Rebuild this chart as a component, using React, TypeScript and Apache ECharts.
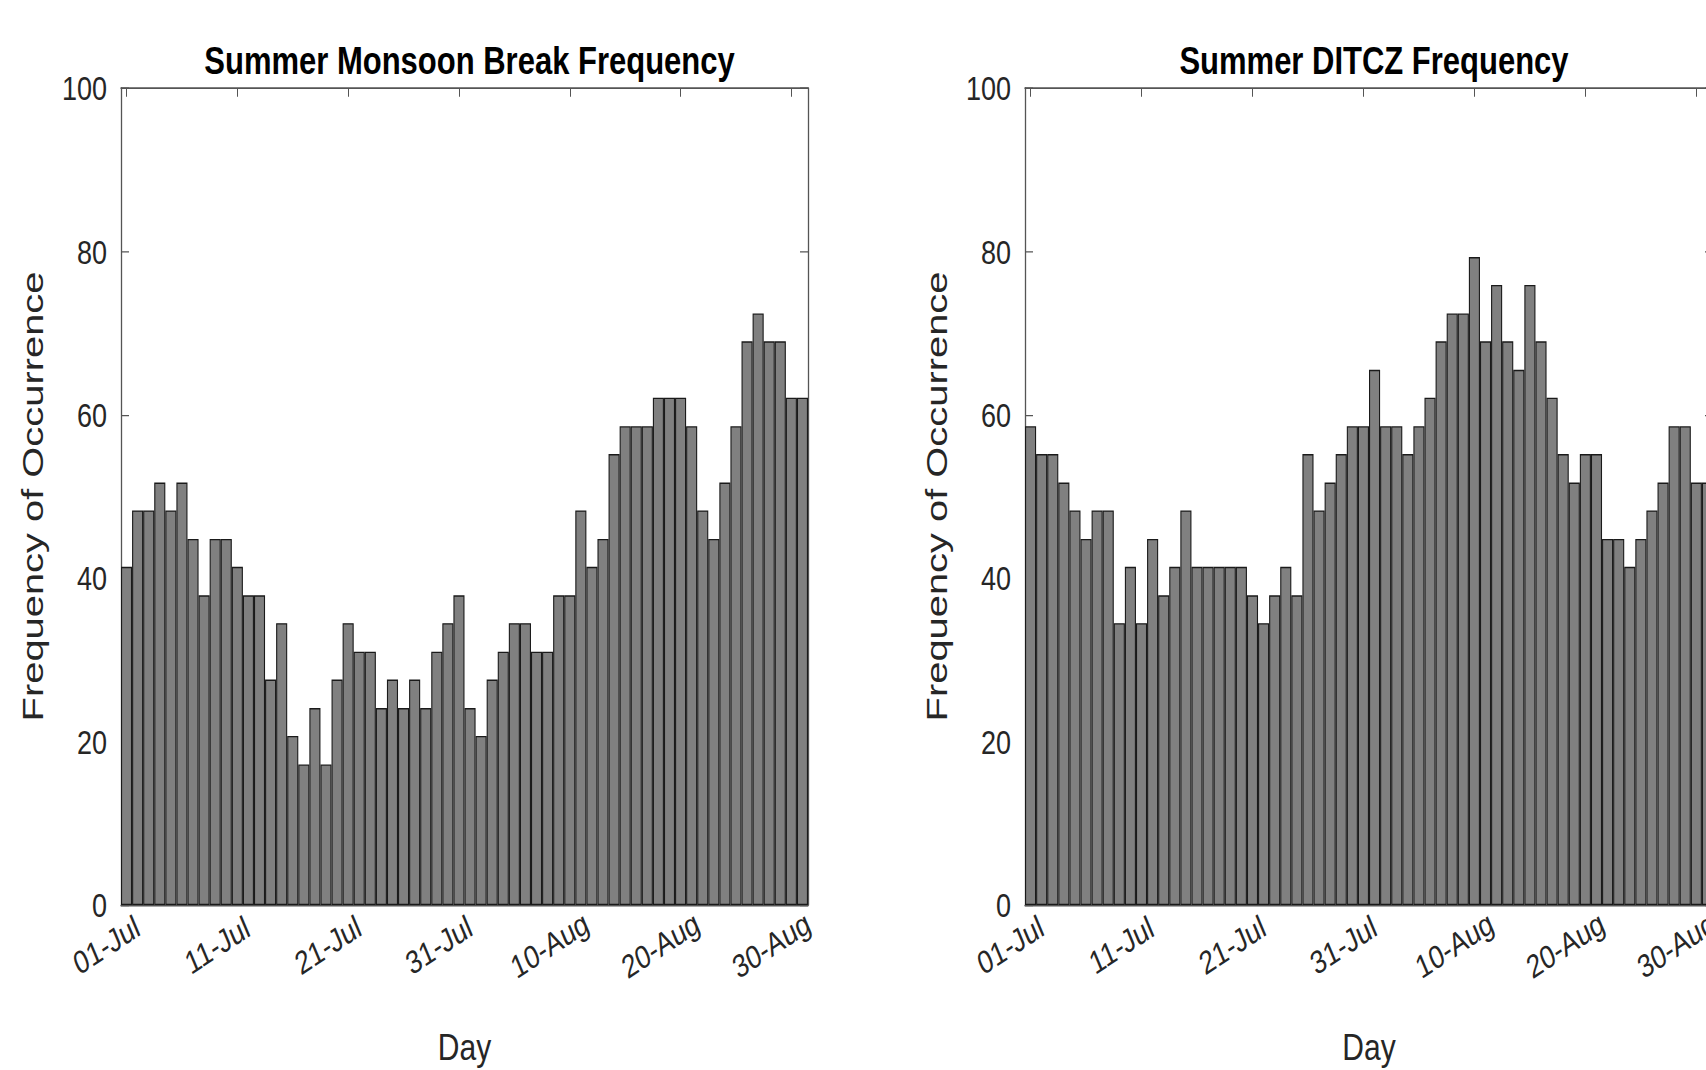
import React, { useEffect, useRef } from "react";
import * as echarts from "echarts";

// Categories: daily labels 01-Jul .. 31-Aug
const MONTHS: [string, number][] = [
  ["Jul", 31],
  ["Aug", 31],
];
const days: string[] = [];
for (const [m, n] of MONTHS) {
  for (let d = 1; d <= n; d++) days.push(String(d).padStart(2, "0") + "-" + m);
}

// Frequency of occurrence (%) per day
const breakFreq = [
  41.4, 48.3, 48.3, 51.7, 48.3, 51.7, 44.8, 37.9, 44.8, 44.8,
  41.4, 37.9, 37.9, 27.6, 34.5, 20.7, 17.2, 24.1, 17.2, 27.6,
  34.5, 31.0, 31.0, 24.1, 27.6, 24.1, 27.6, 24.1, 31.0, 34.5,
  37.9, 24.1, 20.7, 27.6, 31.0, 34.5, 34.5, 31.0, 31.0, 37.9,
  37.9, 48.3, 41.4, 44.8, 55.2, 58.6, 58.6, 58.6, 62.1, 62.1,
  62.1, 58.6, 48.3, 44.8, 51.7, 58.6, 69.0, 72.4, 69.0, 69.0,
  62.1, 62.1,
];

const ditczFreq = [
  58.6, 55.2, 55.2, 51.7, 48.3, 44.8, 48.3, 48.3, 34.5, 41.4,
  34.5, 44.8, 37.9, 41.4, 48.3, 41.4, 41.4, 41.4, 41.4, 41.4,
  37.9, 34.5, 37.9, 41.4, 37.9, 55.2, 48.3, 51.7, 55.2, 58.6,
  58.6, 65.5, 58.6, 58.6, 55.2, 58.6, 62.1, 69.0, 72.4, 72.4,
  79.3, 69.0, 75.9, 69.0, 65.5, 75.9, 69.0, 62.1, 55.2, 51.7,
  55.2, 55.2, 44.8, 44.8, 41.4, 44.8, 48.3, 51.7, 58.6, 58.6,
  51.7, 51.7,
];

const titles = ["Summer Monsoon Break Frequency", "Summer DITCZ Frequency"];
const seriesData = [breakFreq, ditczFreq];
const xName = "Day";
const yName = "Frequency of Occurrence";
const yMin = 0;
const yMax = 100;
const yInterval = 20;
const labelEvery = 10;

// The original figure is vertically stretched; reproduce by drawing at a
// reduced height and stretching the chart box vertically.
const K = 1.25;
const W = 1706;
const H = 1070;

const FONT = "'Liberation Sans', Arial, Helvetica, sans-serif";
const TEXT = "#262626";
const AXIS = "#555555";

const GRID_TOP = 88 / K;
const GRID_H = 817 / K;
const grids = [
  { left: 121, top: GRID_TOP, width: 687, height: GRID_H },
  { left: 1025, top: GRID_TOP, width: 688, height: GRID_H },
];

export default function App() {
  const ref = useRef<HTMLDivElement>(null);
  useEffect(() => {
    if (!ref.current) return;
    const chart = echarts.init(ref.current, null, { renderer: "svg" });
    const showIdx = (i: number) => i % labelEvery === 0;
    const axisLine = { show: true, onZero: false, lineStyle: { color: AXIS, width: 1.3 } };
    const xAxes: any[] = [];
    const yAxes: any[] = [];
    grids.forEach((_, i) => {
      xAxes.push({
        type: "category",
        gridIndex: i,
        data: days,
        position: "bottom",
        boundaryGap: true,
        axisLine,
        axisTick: { show: true, inside: true, length: 7, alignWithLabel: true, interval: showIdx, lineStyle: { color: AXIS } },
        axisLabel: {
          interval: showIdx,
          rotate: 28,
          align: "center",
          verticalAlign: "middle",
          padding: [0, 46, 0, 0],
          margin: 21,
          fontSize: 26,
          fontFamily: FONT,
          color: TEXT,
        },
        name: xName,
        nameLocation: "middle",
        nameGap: 98,
        nameTextStyle: { fontSize: 30, fontFamily: FONT, color: TEXT },
      });
      xAxes.push({
        type: "category",
        gridIndex: i,
        data: days,
        position: "top",
        boundaryGap: true,
        axisLine,
        axisTick: { show: true, inside: true, length: 7, alignWithLabel: true, interval: showIdx, lineStyle: { color: AXIS } },
        axisLabel: { show: false },
      });
      yAxes.push({
        type: "value",
        gridIndex: i,
        position: "left",
        min: yMin,
        max: yMax,
        interval: yInterval,
        axisLine,
        axisTick: { show: true, inside: true, length: 8, lineStyle: { color: AXIS } },
        axisLabel: { margin: 14, fontSize: 27, fontFamily: FONT, color: TEXT },
        splitLine: { show: false },
      });
      yAxes.push({
        type: "value",
        gridIndex: i,
        position: "right",
        min: yMin,
        max: yMax,
        interval: yInterval,
        axisLine,
        axisTick: { show: true, inside: true, length: 8, lineStyle: { color: AXIS } },
        axisLabel: { show: false },
        splitLine: { show: false },
      });
    });

    chart.setOption({
      animation: false,
      backgroundColor: "#ffffff",
      title: grids.map((g, i) => ({
        text: titles[i],
        left: g.left + g.width / 2,
        top: 28,
        textAlign: "center",
        textStyle: { fontFamily: FONT, fontWeight: "bold", fontSize: 31, color: "#000" },
      })),
      grid: grids.map((g) => ({ ...g, containLabel: false, outerBoundsMode: "none" })),
      xAxis: xAxes,
      yAxis: yAxes,
      graphic: grids.map((g) => ({
        type: "text",
        x: g.left - 88,
        y: g.top + g.height / 2,
        rotation: Math.PI / 2,
        scaleX: 1.1,
        style: {
          text: yName,
          fontSize: 29,
          fontFamily: FONT,
          fill: TEXT,
          align: "center",
          verticalAlign: "middle",
        },
      })),
      series: seriesData.map((d, i) => ({
        type: "bar",
        xAxisIndex: 2 * i,
        yAxisIndex: 2 * i,
        data: d,
        barCategoryGap: "0%",
        itemStyle: { color: "#808080", borderColor: "#1a1a1a", borderWidth: 1.1 },
      })),
    });
    return () => chart.dispose();
  }, []);
  return (
    <div style={{ position: "absolute", left: 0, top: 0, width: W, height: H, overflow: "hidden", background: "#fff" }}>
      <div
        ref={ref}
        style={{ width: W, height: H / K, transform: `scaleY(${K})`, transformOrigin: "0 0" }}
      />
    </div>
  );
}
